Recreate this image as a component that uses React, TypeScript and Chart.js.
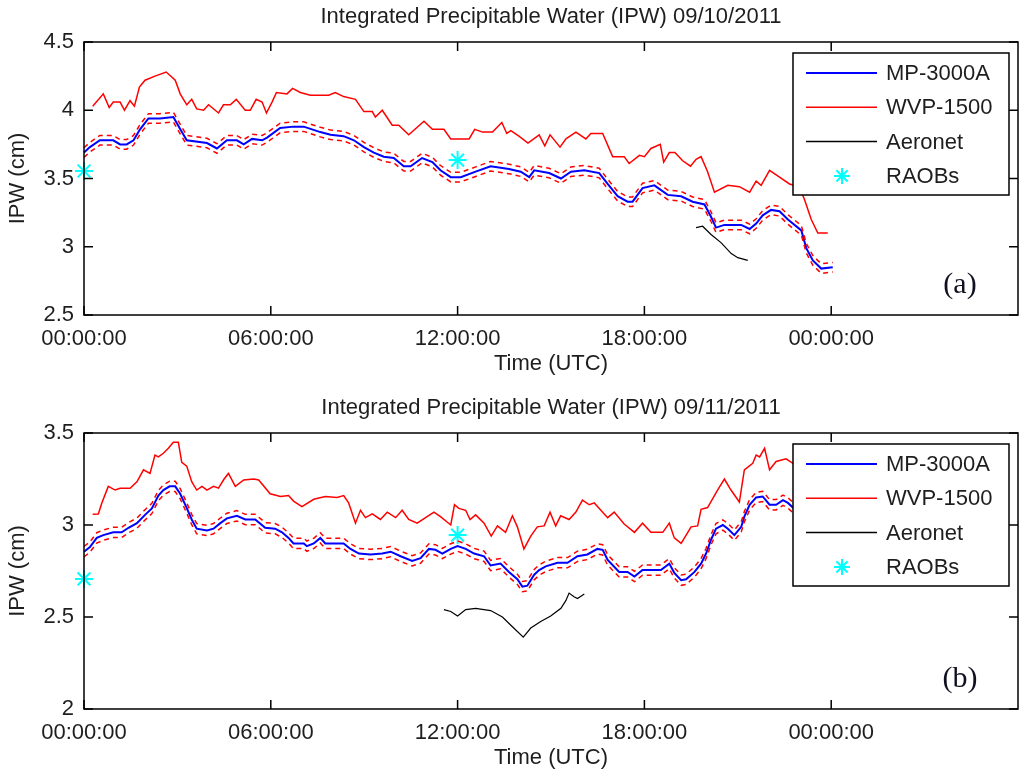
import { useEffect, useRef } from "react";
import { Chart, registerables, type ChartConfiguration, type Plugin } from "chart.js";

Chart.register(...registerables);

// ---- 09/10/2011 (a) ----
const wvpTimeA = [0.28, 0.62, 0.81, 0.94, 1.16, 1.3, 1.48, 1.62, 1.78, 1.96, 2.28, 2.64, 2.93, 3.09, 3.3, 3.46, 3.62, 3.84, 4.0, 4.32, 4.48, 4.7, 4.89, 5.18, 5.34, 5.53, 5.72, 5.86, 6.04, 6.18, 6.52, 6.7, 6.95, 7.27, 7.86, 8.07, 8.34, 8.72, 8.99, 9.26, 9.36, 9.58, 9.9, 10.11, 10.43, 10.92, 11.19, 11.56, 11.78, 12.37, 12.55, 12.8, 13.12, 13.42, 13.58, 13.71, 13.97, 14.26, 14.62, 14.8, 14.97, 15.29, 15.48, 15.8, 16.12, 16.28, 16.66, 16.98, 17.35, 17.51, 17.84, 18.0, 18.21, 18.51, 18.62, 18.8, 18.98, 19.23, 19.48, 19.66, 19.82, 20.03, 20.25, 20.68, 21.05, 21.38, 21.59, 21.75, 22.02, 22.34, 22.66, 22.98, 23.15, 23.36, 23.57, 23.89];
const wvpValA = [4.03, 4.12, 4.02, 4.06, 4.06, 4.0, 4.07, 4.03, 4.17, 4.22, 4.25, 4.28, 4.22, 4.12, 4.04, 4.08, 4.01, 4.0, 4.04, 3.98, 4.04, 4.04, 4.08, 4.0, 4.0, 4.08, 4.06, 3.98, 4.06, 4.13, 4.12, 4.16, 4.13, 4.11, 4.11, 4.13, 4.1, 4.08, 3.99, 3.99, 3.95, 4.0, 3.89, 3.89, 3.82, 3.92, 3.86, 3.86, 3.79, 3.79, 3.86, 3.84, 3.84, 3.91, 3.83, 3.85, 3.81, 3.76, 3.82, 3.74, 3.82, 3.73, 3.79, 3.84, 3.79, 3.83, 3.83, 3.66, 3.66, 3.61, 3.67, 3.66, 3.72, 3.75, 3.62, 3.69, 3.69, 3.63, 3.59, 3.64, 3.66, 3.55, 3.4, 3.45, 3.44, 3.4, 3.48, 3.45, 3.56, 3.51, 3.46, 3.44, 3.34, 3.2, 3.1, 3.1];
const mpTimeA = [0, 0.19, 0.51, 0.94, 1.16, 1.37, 1.59, 1.8, 2.07, 2.44, 2.87, 3.07, 3.3, 3.95, 4.27, 4.59, 4.91, 5.13, 5.4, 5.72, 5.88, 6.3, 6.73, 7.06, 7.59, 7.92, 8.34, 8.67, 8.99, 9.31, 9.63, 9.95, 10.27, 10.49, 10.86, 11.19, 11.45, 11.78, 12.1, 12.58, 13.06, 13.65, 14.03, 14.3, 14.46, 14.94, 15.32, 15.64, 16.07, 16.55, 16.82, 17.14, 17.46, 17.62, 17.94, 18.32, 18.75, 19.18, 19.55, 19.93, 20.14, 20.3, 20.57, 21.11, 21.38, 21.59, 21.8, 22.07, 22.34, 22.61, 23.04, 23.2, 23.41, 23.68, 24.05];
const mpValA = [3.69, 3.73, 3.78, 3.78, 3.75, 3.75, 3.78, 3.86, 3.94, 3.94, 3.95, 3.87, 3.78, 3.76, 3.72, 3.78, 3.78, 3.75, 3.79, 3.78, 3.8, 3.87, 3.88, 3.88, 3.84, 3.82, 3.81, 3.78, 3.73, 3.69, 3.66, 3.65, 3.59, 3.59, 3.65, 3.62, 3.56, 3.51, 3.51, 3.55, 3.59, 3.57, 3.55, 3.51, 3.56, 3.54, 3.5, 3.55, 3.56, 3.54, 3.46, 3.37, 3.33, 3.33, 3.43, 3.45, 3.38, 3.37, 3.33, 3.31, 3.22, 3.14, 3.16, 3.16, 3.13, 3.17, 3.23, 3.27, 3.26, 3.2, 3.12, 2.99, 2.9, 2.84, 2.85];
const mpUncA = 0.035;
const aeroTimeA = [19.66, 19.87, 20.14, 20.46, 20.79, 21.0, 21.32];
const aeroValA = [3.14, 3.15, 3.09, 3.03, 2.95, 2.92, 2.9];
const raobTimeA = [0, 12];
const raobValA = [3.555, 3.635];

// ---- 09/11/2011 (b) ----
const wvpTimeB = [0.28, 0.46, 0.57, 0.78, 1.0, 1.16, 1.48, 1.7, 1.91, 2.12, 2.28, 2.39, 2.55, 2.71, 2.87, 3.03, 3.14, 3.3, 3.46, 3.62, 3.79, 3.95, 4.16, 4.32, 4.5, 4.64, 4.86, 5.13, 5.45, 5.61, 5.98, 6.31, 6.57, 6.73, 7.0, 7.38, 7.75, 8.13, 8.34, 8.5, 8.72, 8.88, 9.04, 9.26, 9.52, 9.74, 10.01, 10.22, 10.43, 10.7, 11.02, 11.24, 11.45, 11.78, 11.9, 12.04, 12.26, 12.4, 12.58, 12.85, 13.08, 13.28, 13.54, 13.76, 13.92, 14.13, 14.35, 14.56, 14.78, 14.97, 15.15, 15.31, 15.58, 15.8, 16.01, 16.23, 16.39, 16.55, 16.82, 17.03, 17.35, 17.68, 17.94, 18.21, 18.59, 18.8, 18.96, 19.18, 19.5, 19.71, 19.82, 20.03, 20.35, 20.57, 20.78, 21.05, 21.21, 21.48, 21.59, 21.7, 21.86, 22.02, 22.23, 22.55, 22.77, 23.1, 23.5];
const wvpValB = [3.058, 3.06, 3.118, 3.21, 3.19, 3.2, 3.2, 3.235, 3.3, 3.28, 3.38, 3.37, 3.39, 3.417, 3.45, 3.45, 3.34, 3.32, 3.235, 3.19, 3.21, 3.19, 3.21, 3.2, 3.25, 3.28, 3.21, 3.245, 3.25, 3.245, 3.17, 3.155, 3.16, 3.13, 3.1, 3.14, 3.155, 3.15, 3.16, 3.12, 3.01, 3.08, 3.04, 3.06, 3.03, 3.07, 3.04, 3.08, 3.03, 3.01, 3.045, 3.07, 3.045, 3.0, 3.11, 3.09, 3.08, 3.03, 3.055, 3.01, 2.94, 2.995, 2.96, 3.05, 2.99, 2.87, 2.94, 2.99, 2.995, 3.07, 2.995, 3.05, 3.03, 3.07, 3.135, 3.11, 3.12, 3.09, 3.04, 3.07, 3.005, 2.96, 3.01, 2.96, 2.96, 3.01, 2.93, 2.9, 2.99, 2.995, 3.085, 3.095, 3.19, 3.25, 3.19, 3.125, 3.3, 3.335, 3.38, 3.37, 3.417, 3.3, 3.345, 3.36, 3.335, 3.32, 3.3];
const mpTimeB = [0, 0.19, 0.41, 0.62, 0.94, 1.21, 1.43, 1.7, 1.96, 2.18, 2.39, 2.55, 2.75, 2.93, 3.09, 3.28, 3.46, 3.62, 3.95, 4.16, 4.38, 4.59, 4.91, 5.18, 5.5, 5.82, 6.14, 6.36, 6.57, 6.73, 7.06, 7.16, 7.38, 7.59, 7.75, 8.34, 8.56, 8.83, 9.2, 9.58, 9.85, 10.17, 10.54, 10.81, 11.08, 11.29, 11.51, 11.78, 12.0, 12.26, 12.53, 12.85, 13.06, 13.38, 13.65, 13.92, 14.08, 14.24, 14.46, 14.62, 14.83, 15.21, 15.53, 15.85, 16.17, 16.49, 16.66, 16.82, 17.19, 17.46, 17.68, 17.94, 18.21, 18.53, 18.8, 18.96, 19.18, 19.34, 19.61, 19.82, 19.98, 20.14, 20.3, 20.52, 20.68, 20.89, 21.11, 21.21, 21.38, 21.59, 21.8, 22.02, 22.23, 22.45, 22.61, 22.77, 23.1, 23.5];
const mpValB = [2.855, 2.88, 2.93, 2.945, 2.96, 2.96, 2.985, 3.01, 3.055, 3.09, 3.16, 3.19, 3.21, 3.21, 3.17, 3.1, 3.03, 2.98, 2.97, 2.98, 3.01, 3.036, 3.05, 3.03, 3.03, 2.985, 2.98, 2.96, 2.93, 2.9, 2.9, 2.885, 2.9, 2.93, 2.9, 2.9, 2.87, 2.845, 2.84, 2.845, 2.855, 2.83, 2.805, 2.82, 2.87, 2.865, 2.845, 2.87, 2.885, 2.87, 2.845, 2.83, 2.78, 2.79, 2.745, 2.705, 2.665, 2.67, 2.73, 2.755, 2.775, 2.795, 2.795, 2.83, 2.84, 2.87, 2.865, 2.81, 2.745, 2.745, 2.72, 2.755, 2.755, 2.755, 2.79, 2.74, 2.7, 2.705, 2.745, 2.79, 2.845, 2.92, 2.98, 3.0, 2.98, 2.945, 2.99, 3.045, 3.11, 3.15, 3.155, 3.11, 3.11, 3.135, 3.12, 3.095, 3.08, 3.07];
const mpUncB = 0.028;
const aeroTimeB = [11.56, 11.78, 12.0, 12.26, 12.58, 13.06, 13.44, 13.76, 14.11, 14.35, 14.67, 14.99, 15.32, 15.48, 15.58, 15.74, 15.85, 16.07];
const aeroValB = [2.54, 2.53, 2.505, 2.54, 2.547, 2.535, 2.5, 2.447, 2.39, 2.44, 2.475, 2.505, 2.547, 2.59, 2.63, 2.61, 2.6, 2.625];
const raobTimeB = [0, 12];
const raobValB = [2.707, 2.945];

const hourTicks = [0, 6, 12, 18, 24];
const legendLabels = ["MP-3000A", "WVP-1500", "Aeronet", "RAOBs"];
const legendColors = ["#0000ff", "#ff0000", "#000000", "#00ffff"];

const FONT = "'Liberation Sans', Arial, sans-serif";
const TEXT = "#1e1e1e";

const pts = (t: number[], v: number[], off = 0) =>
  t.map((x, i) => ({ x, y: v[i] + off }));

type PanelProps = {
  title: string;
  tag: string;
  mpT: number[];
  mpV: number[];
  unc: number;
  wvpT: number[];
  wvpV: number[];
  aeroT: number[];
  aeroV: number[];
  raobT: number[];
  raobV: number[];
  yMin: number;
  yMax: number;
  height: number;
  areaTop: number;
  areaBottom: number;
};

const drawStar = (ctx: CanvasRenderingContext2D, x: number, y: number, r: number) => {
  ctx.beginPath();
  ctx.moveTo(x - r, y);
  ctx.lineTo(x + r, y);
  ctx.moveTo(x, y - r);
  ctx.lineTo(x, y + r);
  const d = r * 0.7;
  ctx.moveTo(x - d, y - d);
  ctx.lineTo(x + d, y + d);
  ctx.moveTo(x - d, y + d);
  ctx.lineTo(x + d, y - d);
  ctx.stroke();
};

function IpwPanel(props: PanelProps) {
  const canvasRef = useRef<HTMLCanvasElement | null>(null);

  useEffect(() => {
    const canvas = canvasRef.current;
    if (!canvas) return;
    const { title, tag, height, areaTop, areaBottom, yMin, yMax } = props;

    const frame: Plugin<"line"> = {
      id: "matlabFrame",
      afterDatasetsDraw(chart) {
        // legend box inside the axes, top right
        const { ctx, chartArea } = chart;
        const left = chartArea.right - 225;
        const right = chartArea.right - 9;
        const top = chartArea.top + 11;
        const h = 142;
        ctx.save();
        ctx.fillStyle = "#ffffff";
        ctx.fillRect(left, top, right - left, h);
        ctx.strokeStyle = "#000";
        ctx.lineWidth = 1.5;
        ctx.strokeRect(left, top, right - left, h);
        ctx.font = `22px ${FONT}`;
        ctx.textBaseline = "middle";
        ctx.textAlign = "left";
        legendLabels.forEach((label, i) => {
          const y = top + 20 + i * 34.3;
          ctx.strokeStyle = legendColors[i];
          if (i < 3) {
            ctx.lineWidth = i === 0 ? 2 : 1.5;
            ctx.beginPath();
            ctx.moveTo(left + 13, y);
            ctx.lineTo(left + 84, y);
            ctx.stroke();
          } else {
            ctx.lineWidth = 2;
            drawStar(ctx, left + 49, y, 8);
          }
          ctx.fillStyle = TEXT;
          ctx.fillText(label, left + 93, y + 1);
        });
        ctx.restore();
      },
      afterDraw(chart) {
        const { ctx, chartArea, scales } = chart;
        const { left, right, top, bottom } = chartArea;
        ctx.save();
        ctx.strokeStyle = "#000";
        ctx.lineWidth = 1.5;
        ctx.strokeRect(left, top, right - left, bottom - top);
        ctx.beginPath();
        scales.y.ticks.forEach((t) => {
          const y = scales.y.getPixelForValue(t.value);
          ctx.moveTo(left, y);
          ctx.lineTo(left + 9, y);
          ctx.moveTo(right, y);
          ctx.lineTo(right - 9, y);
        });
        hourTicks.forEach((v) => {
          const x = scales.x.getPixelForValue(v);
          ctx.moveTo(x, bottom);
          ctx.lineTo(x, bottom - 9);
          ctx.moveTo(x, top);
          ctx.lineTo(x, top + 9);
        });
        ctx.stroke();

        const cx = (left + right) / 2;
        ctx.fillStyle = TEXT;
        ctx.font = `22px ${FONT}`;
        ctx.textAlign = "center";
        ctx.textBaseline = "middle";
        ctx.fillText(title, cx, top - 25);
        ctx.fillText("Time (UTC)", cx, bottom + 49);
        ctx.save();
        ctx.translate(18, (top + bottom) / 2);
        ctx.rotate(-Math.PI / 2);
        ctx.fillText("IPW (cm)", 0, 0);
        ctx.restore();

        ctx.font = "30px 'Liberation Serif', 'Times New Roman', serif";
        ctx.fillStyle = "#101020";
        ctx.fillText(tag, 960, bottom - 30);
        ctx.restore();
      },
    };

    const config: ChartConfiguration<"line"> = {
      type: "line",
      data: {
        datasets: [
          {
            label: "MP-3000A upper",
            data: pts(props.mpT, props.mpV, props.unc),
            borderColor: "#ff0000",
            borderWidth: 1.5,
            borderDash: [5, 4],
            pointRadius: 0,
          },
          {
            label: "MP-3000A lower",
            data: pts(props.mpT, props.mpV, -props.unc),
            borderColor: "#ff0000",
            borderWidth: 1.5,
            borderDash: [5, 4],
            pointRadius: 0,
          },
          {
            label: legendLabels[0],
            data: pts(props.mpT, props.mpV),
            borderColor: legendColors[0],
            borderWidth: 2,
            pointRadius: 0,
          },
          {
            label: legendLabels[1],
            data: pts(props.wvpT, props.wvpV),
            borderColor: legendColors[1],
            borderWidth: 1.5,
            pointRadius: 0,
          },
          {
            label: legendLabels[2],
            data: pts(props.aeroT, props.aeroV),
            borderColor: legendColors[2],
            borderWidth: 1.2,
            pointRadius: 0,
          },
          {
            label: legendLabels[3],
            data: pts(props.raobT, props.raobV),
            borderColor: legendColors[3],
            backgroundColor: legendColors[3],
            showLine: false,
            pointStyle: "star",
            pointRadius: 9,
            pointBorderWidth: 2,
          },
        ],
      },
      options: {
        responsive: false,
        animation: false,
        clip: false,
        layout: {
          autoPadding: false,
          padding: { top: areaTop, right: 6, left: 0, bottom: 0 },
        },
        plugins: {
          legend: { display: false },
          title: { display: false },
          tooltip: { enabled: false },
        },
        scales: {
          x: {
            type: "linear",
            min: 0,
            max: 30,
            grid: { display: false, drawTicks: false },
            border: { display: false },
            afterBuildTicks: (scale) => {
              scale.ticks = hourTicks.map((value) => ({ value }));
            },
            afterFit: (scale) => {
              scale.height = height - areaBottom;
              scale.paddingLeft = 0;
              scale.paddingRight = 0;
            },
            ticks: {
              padding: 11,
              autoSkip: false,
              maxRotation: 0,
              color: TEXT,
              font: { family: FONT, size: 22 },
              callback: (v) => `${String(Number(v) % 24).padStart(2, "0")}:00:00`,
            },
          },
          y: {
            min: yMin,
            max: yMax,
            grid: { display: false, drawTicks: false },
            border: { display: false },
            afterFit: (scale) => {
              scale.width = 84;
            },
            ticks: {
              stepSize: 0.5,
              padding: 10,
              color: TEXT,
              font: { family: FONT, size: 22 },
              callback: (v) => String(v),
            },
          },
        },
      },
      plugins: [frame],
    };

    const chart = new Chart(canvas, config);
    return () => {
      chart.destroy();
    };
  }, [props]);

  return (
    <canvas
      ref={canvasRef}
      width={1024}
      height={props.height}
      style={{ display: "block", width: 1024, height: props.height }}
    />
  );
}

const panelA: PanelProps = {
  title: "Integrated Precipitable Water (IPW) 09/10/2011",
  tag: "(a)",
  mpT: mpTimeA,
  mpV: mpValA,
  unc: mpUncA,
  wvpT: wvpTimeA,
  wvpV: wvpValA,
  aeroT: aeroTimeA,
  aeroV: aeroValA,
  raobT: raobTimeA,
  raobV: raobValA,
  yMin: 2.5,
  yMax: 4.5,
  height: 390,
  areaTop: 42,
  areaBottom: 315,
};

const panelB: PanelProps = {
  title: "Integrated Precipitable Water (IPW) 09/11/2011",
  tag: "(b)",
  mpT: mpTimeB,
  mpV: mpValB,
  unc: mpUncB,
  wvpT: wvpTimeB,
  wvpV: wvpValB,
  aeroT: aeroTimeB,
  aeroV: aeroValB,
  raobT: raobTimeB,
  raobV: raobValB,
  yMin: 2,
  yMax: 3.5,
  height: 385,
  areaTop: 43,
  areaBottom: 319,
};

export default function App() {
  return (
    <div
      style={{
        position: "absolute",
        left: 0,
        top: 0,
        width: 1024,
        height: 775,
        background: "#ffffff",
      }}
    >
      <IpwPanel {...panelA} />
      <IpwPanel {...panelB} />
    </div>
  );
}
